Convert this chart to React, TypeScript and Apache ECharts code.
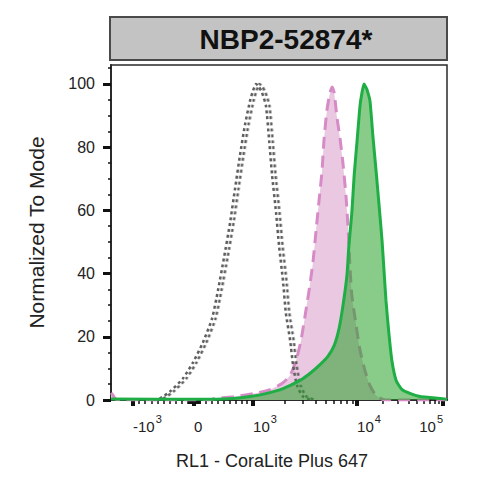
import React, { useEffect, useRef } from "react";
import * as echarts from "echarts";

// Histogram data: x = display channel (0–1024, biexponential display), y = % of mode
const grayX = [130, 149, 180, 219, 250, 280, 308, 326, 344, 363, 378, 393, 408, 424, 433, 442, 451, 460, 472, 482, 491, 503, 512, 524, 533, 546, 555, 567, 585, 613];
const grayY = [0, 0.5, 2.7, 6.8, 11.9, 18.2, 25.8, 34.7, 44.8, 56.2, 66.9, 77.4, 86.9, 94.8, 97.9, 100, 99, 97.3, 93.2, 82.1, 71.0, 59.3, 48.9, 37.8, 27.4, 18.8, 10.9, 4.6, 1.1, 0];

const pinkX = [0, 6, 14, 40, 300, 317, 378, 439, 485, 521, 546, 564, 579, 594, 606, 616, 625, 634, 643, 649, 658, 667, 674, 680, 689, 698, 707, 716, 722, 728, 734, 747, 759, 774, 789, 808, 835, 1024];
const pinkY = [2.2, 1.5, 0.3, 0, 0, 0.5, 1.1, 2.1, 3.3, 5.2, 7.8, 12.5, 18.8, 28.3, 36.3, 44.1, 53.6, 63.1, 72.3, 82.1, 91.6, 97, 99, 97.3, 89.1, 82.8, 74.8, 64.7, 55.2, 42.6, 33.1, 23.6, 15.7, 9.3, 4.6, 1.4, 0, 0];

const greenX = [0, 271, 372, 424, 475, 524, 576, 606, 637, 661, 680, 695, 707, 719, 725, 734, 741, 750, 759, 765, 771, 777, 780, 789, 798, 808, 817, 826, 832, 838, 847, 856, 869, 887, 911, 942, 972, 1003, 1024];
const greenY = [0.3, 0.2, 0.5, 1.1, 2.1, 3.6, 6.2, 8.4, 11.2, 13.8, 17.2, 22.6, 29.9, 39.4, 48.9, 59.3, 71.0, 82.1, 93.2, 97.3, 100, 98.9, 98.3, 94.8, 83.7, 72.3, 61.6, 50.5, 41.0, 31.5, 21.0, 12.5, 6.2, 3.3, 2.1, 1.1, 0.8, 0.5, 0.2];

// Axis decades: intensity value -> display channel
const decadeValues = [-1000, 0, 1000, 10000, 100000];
const decadeChannels = [67, 253, 433, 750, 1012];
const decadeLabels = ["{b|-10}{s|3}", "{b|0}", "{b|10}{s|3}", "{b|10}{s|4}", "{b|10}{s|5}"];

const yMajor = [0, 20, 40, 60, 80, 100];
const yMinor = [5, 10, 15, 25, 30, 35, 45, 50, 55, 65, 70, 75, 85, 90, 95, 105];

const titleText = "NBP2-52874*";
const xTitle = "RL1 - CoraLite Plus 647";
const yTitle = "Normalized To Mode";

function toChannel(v: number): number {
  const [c0, c1, c2, c3, c4] = decadeChannels;
  if (v <= 0) return c1 + (v / -decadeValues[0]) * (c1 - c0);
  if (v <= decadeValues[2]) return c1 + (v / decadeValues[2]) * (c2 - c1);
  if (v <= decadeValues[3]) return c2 + Math.log10(v / decadeValues[2]) * (c3 - c2);
  return c3 + Math.log10(v / decadeValues[3]) * (c4 - c3);
}

function minorChannels(): number[] {
  const out: number[] = [];
  for (let k = 1; k <= 9; k++) {
    out.push(toChannel(k * 10), toChannel(-k * 10), toChannel(k * 100), toChannel(-k * 100));
    if (k >= 2) out.push(toChannel(k * 1000), toChannel(k * 10000));
  }
  return out;
}

const zip = (xs: number[], ys: number[]) => xs.map((x, i) => [x, ys[i]]);

const FONT = "'Liberation Sans', Arial, Helvetica, sans-serif";

export default function App() {
  const ref = useRef<HTMLDivElement>(null);
  useEffect(() => {
    if (!ref.current) return;
    const chart = echarts.init(ref.current, undefined, { renderer: "svg" });
    const labelFor = (val: number) => {
      const i = decadeChannels.findIndex((c) => Math.abs(c - val) < 0.5);
      return i >= 0 ? decadeLabels[i] : "";
    };
    chart.setOption({
      animation: false,
      backgroundColor: "#ffffff",
      textStyle: { fontFamily: FONT },
      grid: {
        left: 111,
        right: 53,
        top: 65,
        bottom: 100,
        show: true,
        borderColor: "#2a2a2a",
        borderWidth: 1.5,
        backgroundColor: "transparent",
      },
      graphic: [
        {
          type: "rect",
          shape: { x: 110, y: 17, width: 337, height: 43 },
          style: { fill: "#c3c3c3", stroke: "#4a4a4a", lineWidth: 2 },
          z: 10,
        },
        {
          type: "text",
          x: 286,
          y: 39,
          style: {
            text: titleText,
            fontFamily: FONT,
            fontSize: 28,
            fontWeight: "bold",
            fill: "#111",
            align: "center",
            verticalAlign: "middle",
          },
          z: 11,
        },
      ],
      xAxis: [
        {
          type: "value",
          min: 0,
          max: 1024,
          position: "bottom",
          name: xTitle,
          nameLocation: "middle",
          nameGap: 52,
          nameTextStyle: { fontSize: 18, color: "#222", fontFamily: FONT, padding: [0, 14, 0, 0] },
          axisLine: { show: true, lineStyle: { color: "#2a2a2a", width: 2 } },
          splitLine: { show: false },
          axisTick: {
            show: true,
            customValues: decadeChannels,
            length: 6,
            lineStyle: { color: "#111", width: 4 },
          },
          axisLabel: {
            show: true,
            customValues: decadeChannels,
            formatter: labelFor,
            align: "left",
            alignMaxLabel: "right",
            margin: 15,
            color: "#222",
            fontSize: 15,
            fontFamily: FONT,
            rich: {
              b: { fontSize: 15, lineHeight: 15, padding: [7, 0, 0, 0], color: "#222", fontFamily: FONT },
              s: { fontSize: 11, lineHeight: 11, padding: [0, 0, 8, 1], color: "#222", fontFamily: FONT },
            },
          },
        },
        {
          type: "value",
          min: 0,
          max: 1024,
          position: "bottom",
          axisLine: { show: false },
          splitLine: { show: false },
          axisLabel: { show: false },
          axisTick: {
            show: true,
            customValues: minorChannels(),
            length: 4,
            lineStyle: { color: "#111", width: 1.5 },
          },
        },
      ],
      yAxis: [
        {
          type: "value",
          min: 0,
          max: 106,
          interval: 20,
          position: "left",
          name: yTitle,
          nameLocation: "middle",
          nameGap: 64,
          nameTextStyle: { fontSize: 21, color: "#222", fontFamily: FONT },
          axisLine: { show: true, lineStyle: { color: "#2a2a2a", width: 2 } },
          splitLine: { show: false },
          axisTick: {
            show: true,
            customValues: yMajor,
            length: 8,
            lineStyle: { color: "#111", width: 3 },
          },
          axisLabel: {
            show: true,
            customValues: yMajor,
            margin: 16,
            fontSize: 16,
            color: "#222",
            fontFamily: FONT,
          },
        },
        {
          type: "value",
          min: 0,
          max: 106,
          position: "left",
          axisLine: { show: false },
          splitLine: { show: false },
          axisLabel: { show: false },
          axisTick: {
            show: true,
            customValues: yMinor,
            length: 3,
            lineStyle: { color: "#111", width: 1.5 },
          },
        },
      ],
      series: [
        {
          type: "line",
          name: "isotype",
          data: zip(pinkX, pinkY),
          xAxisIndex: 0,
          yAxisIndex: 0,
          symbol: "none",
          smooth: 0.2,
          lineStyle: { color: "#d68ac6", width: 3, type: [12, 7] },
          areaStyle: { color: "#ebc8e2", opacity: 1 },
          z: 2,
        },
        {
          type: "line",
          name: "unstained",
          data: zip(grayX, grayY),
          xAxisIndex: 0,
          yAxisIndex: 0,
          symbol: "none",
          smooth: 0.2,
          lineStyle: {
            color: "#5f5f5f",
            width: 2.5,
            type: [3, 3],
            shadowColor: "#5f5f5f",
            shadowBlur: 0,
            shadowOffsetX: 3.5,
            shadowOffsetY: 0,
          },
          z: 3,
        },
        {
          type: "line",
          name: "antibody",
          data: zip(greenX, greenY),
          xAxisIndex: 0,
          yAxisIndex: 0,
          symbol: "none",
          smooth: 0.2,
          lineStyle: { color: "#1fae45", width: 3 },
          areaStyle: { color: "rgba(40,160,40,0.55)", opacity: 1 },
          z: 4,
        },
      ],
    });
    return () => chart.dispose();
  }, []);
  return <div ref={ref} style={{ width: 500, height: 500, position: "absolute", left: 0, top: 0 }} />;
}
